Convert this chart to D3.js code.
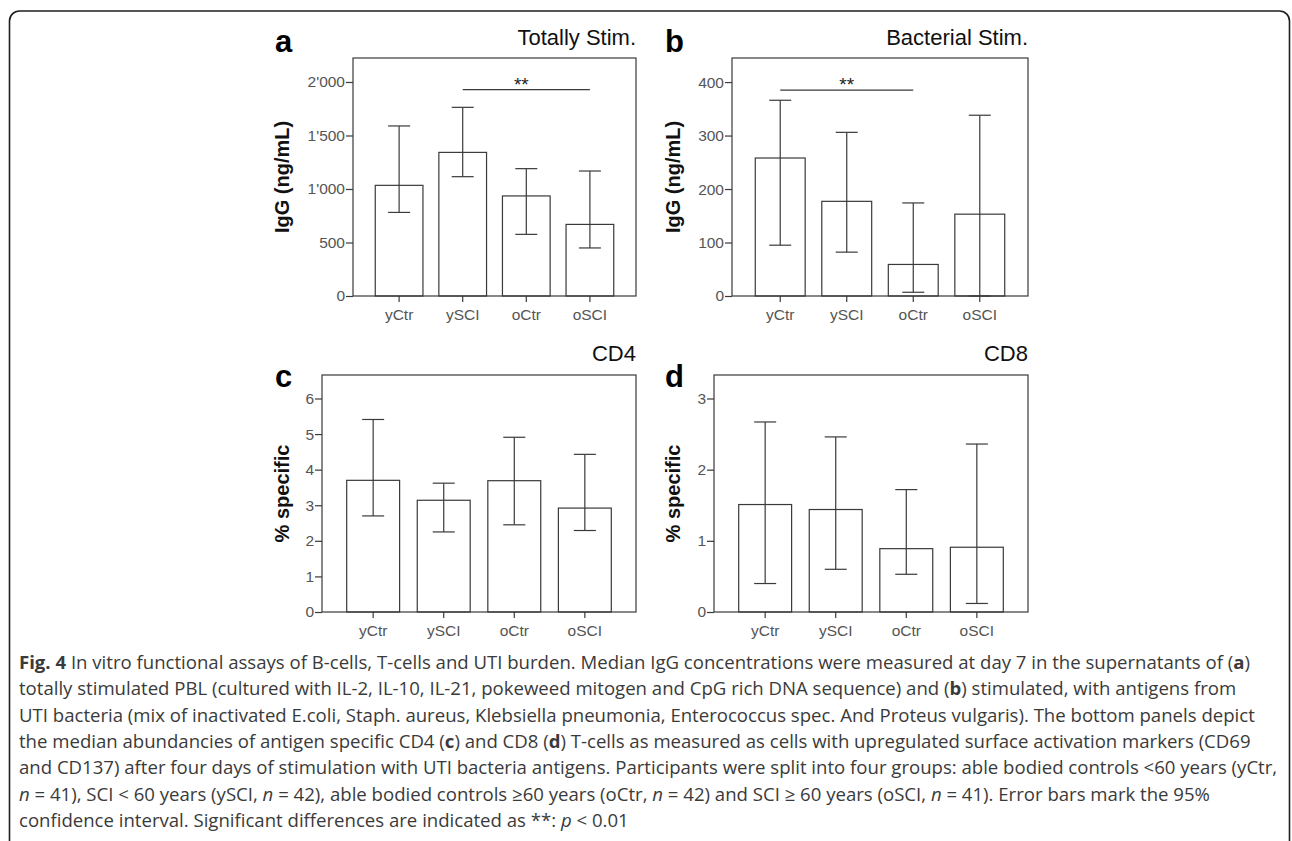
<!DOCTYPE html>
<html>
<head>
<meta charset="utf-8">
<script src="https://cdn.jsdelivr.net/npm/d3@7"></script>
<style>
  body { margin: 0; background: #fff; }
  svg { display: block; }
</style>
</head>
<body>
<div class="fig-wrap"></div>
<script>
// groups on the x axis
const groups = ["yCtr", "ySCI", "oCtr", "oSCI"];

// a: IgG, totally stimulated (median + 95% CI)
const totalMedian = [1034, 1342, 935, 669];
const totalLow = [781, 1115, 576, 449];
const totalHigh = [1589, 1763, 1190, 1168];
const totalTicks = [0, 500, 1000, 1500, 2000];

// b: IgG, bacterial stimulation
const bactMedian = [258, 177, 59, 153];
const bactLow = [95, 82, 7, 0];
const bactHigh = [366, 306, 174, 338];
const bactTicks = [0, 100, 200, 300, 400];

// c: CD4 % specific
const cd4Median = [3.70, 3.14, 3.69, 2.92];
const cd4Low = [2.70, 2.25, 2.45, 2.29];
const cd4High = [5.41, 3.62, 4.91, 4.43];
const cd4Ticks = [0, 1, 2, 3, 4, 5, 6];

// d: CD8 % specific
const cd8Median = [1.51, 1.44, 0.89, 0.91];
const cd8Low = [0.40, 0.60, 0.53, 0.12];
const cd8High = [2.67, 2.46, 1.72, 2.36];
const cd8Ticks = [0, 1, 2, 3];

// significance brackets: [from, to, height]
const totalSig = ["ySCI", "oSCI", 1928];
const bactSig = ["yCtr", "oCtr", 385];

// caption lines, segments: [text, style]
const captionLines = [
  [["Fig. 4", "b"], [" In vitro functional assays of B-cells, T-cells and UTI burden. Median IgG concentrations were measured at day 7 in the supernatants of (", ""], ["a", "b"], [")", ""]],
  [["totally stimulated PBL (cultured with IL-2, IL-10, IL-21, pokeweed mitogen and CpG rich DNA sequence) and (", ""], ["b", "b"], [") stimulated, with antigens from", ""]],
  [["UTI bacteria (mix of inactivated E.coli, Staph. aureus, Klebsiella pneumonia, Enterococcus spec. And Proteus vulgaris). The bottom panels depict", ""]],
  [["the median abundancies of antigen specific CD4 (", ""], ["c", "b"], [") and CD8 (", ""], ["d", "b"], [") T-cells as measured as cells with upregulated surface activation markers (CD69", ""]],
  [["and CD137) after four days of stimulation with UTI bacteria antigens. Participants were split into four groups: able bodied controls <60 years (yCtr,", ""]],
  [["n", "i"], [" = 41), SCI < 60 years (ySCI, ", ""], ["n", "i"], [" = 42), able bodied controls \u226560 years (oCtr, ", ""], ["n", "i"], [" = 42) and SCI \u2265 60 years (oSCI, ", ""], ["n", "i"], [" = 41). Error bars mark the 95%", ""]],
  [["confidence interval. Significant differences are indicated as **: ", ""], ["p", "i"], [" < 0.01", ""]]
];

const W = 1292, H = 841;
const ink = "#3a3a3a";
const tickInk = "#555";
const chartFont = "'Liberation Sans', Arial, Helvetica, sans-serif";

const svg = d3.select(".fig-wrap")
  .append("svg")
  .attr("width", W)
  .attr("height", H);

// outer rounded frame (bottom edge runs off the page)
svg.append("rect")
  .attr("x", 9.5).attr("y", 11)
  .attr("width", 1280).attr("height", 900)
  .attr("rx", 10)
  .attr("fill", "none")
  .attr("stroke", "#1e1e1e")
  .attr("stroke-width", 1.6);

const panels = [
  { letter: "a", title: "Totally Stim.", ylabel: "IgG (ng/mL)", med: totalMedian, lo: totalLow, hi: totalHigh,
    ticks: totalTicks, max: 2224, sig: totalSig, sigShift: -5, fmt: true,
    x0: 353, x1: 636, y0: 58, y1: 296, labelX: 275, axisLabelX: 282, titleY: 45, letterY: 52 },
  { letter: "b", title: "Bacterial Stim.", ylabel: "IgG (ng/mL)", med: bactMedian, lo: bactLow, hi: bactHigh,
    ticks: bactTicks, max: 445, sig: bactSig, sigShift: 0, fmt: false,
    x0: 732, x1: 1028, y0: 58, y1: 296, labelX: 665, axisLabelX: 673, titleY: 45, letterY: 52 },
  { letter: "c", title: "CD4", ylabel: "% specific", med: cd4Median, lo: cd4Low, hi: cd4High,
    ticks: cd4Ticks, max: 6.66, sig: null, fmt: false,
    x0: 322, x1: 636, y0: 375, y1: 612, labelX: 275, axisLabelX: 282, titleY: 361, letterY: 387 },
  { letter: "d", title: "CD8", ylabel: "% specific", med: cd8Median, lo: cd8Low, hi: cd8High,
    ticks: cd8Ticks, max: 3.33, sig: null, fmt: false,
    x0: 714, x1: 1028, y0: 375, y1: 612, labelX: 665, axisLabelX: 673, titleY: 361, letterY: 387 }
];

const apostrophe = d3.formatLocale({ decimal: ".", thousands: "'", grouping: [3], currency: ["", ""] }).format(",");

panels.forEach(drawPanel);

function drawPanel(p) {
  const x = d3.scaleBand()
    .domain(groups)
    .range([p.x0, p.x1])
    .paddingInner(0.25)
    .paddingOuter(0.35);
  const y = d3.scaleLinear()
    .domain([0, p.max])
    .range([p.y1, p.y0]);

  const g = svg.append("g");
  const rows = groups.map((k, i) => ({ k, m: p.med[i], lo: p.lo[i], hi: p.hi[i] }));

  // bars
  g.selectAll("rect.bar")
    .data(rows)
    .enter()
    .append("rect")
    .attr("class", "bar")
    .attr("x", d => x(d.k))
    .attr("y", d => y(d.m))
    .attr("width", x.bandwidth())
    .attr("height", d => y(0) - y(d.m))
    .attr("fill", "#fff")
    .attr("stroke", ink)
    .attr("stroke-width", 1.2);

  // error bars
  const cap = 11;
  const eb = g.selectAll("g.err")
    .data(rows)
    .enter()
    .append("g")
    .attr("class", "err")
    .attr("stroke", ink)
    .attr("stroke-width", 1.2);
  eb.append("line")
    .attr("x1", d => x(d.k) + x.bandwidth() / 2)
    .attr("x2", d => x(d.k) + x.bandwidth() / 2)
    .attr("y1", d => y(d.lo))
    .attr("y2", d => y(d.hi));
  eb.append("line")
    .attr("x1", d => x(d.k) + x.bandwidth() / 2 - cap)
    .attr("x2", d => x(d.k) + x.bandwidth() / 2 + cap)
    .attr("y1", d => y(d.hi))
    .attr("y2", d => y(d.hi));
  eb.append("line")
    .attr("x1", d => x(d.k) + x.bandwidth() / 2 - cap)
    .attr("x2", d => x(d.k) + x.bandwidth() / 2 + cap)
    .attr("y1", d => y(d.lo))
    .attr("y2", d => y(d.lo));

  // plot frame
  g.append("rect")
    .attr("x", p.x0).attr("y", p.y0)
    .attr("width", p.x1 - p.x0).attr("height", p.y1 - p.y0)
    .attr("fill", "none")
    .attr("stroke", ink)
    .attr("stroke-width", 1.2);

  // y axis
  const yAxis = d3.axisLeft(y)
    .tickValues(p.ticks)
    .tickSize(7)
    .tickPadding(1)
    .tickFormat(p.fmt ? apostrophe : d3.format("d"));
  const ya = g.append("g")
    .attr("transform", `translate(${p.x0},0)`)
    .call(yAxis);
  ya.select(".domain").remove();
  ya.selectAll(".tick line").attr("stroke", ink).attr("stroke-width", 1.2);
  ya.selectAll(".tick text")
    .attr("fill", tickInk)
    .style("font-family", chartFont)
    .style("font-size", "15.5px");

  // x axis
  const xAxis = d3.axisBottom(x).tickSize(6).tickPadding(7);
  const xa = g.append("g")
    .attr("transform", `translate(0,${p.y1})`)
    .call(xAxis);
  xa.select(".domain").remove();
  xa.selectAll(".tick line").attr("stroke", ink).attr("stroke-width", 1.2);
  xa.selectAll(".tick text")
    .attr("fill", tickInk)
    .style("font-family", chartFont)
    .style("font-size", "15.5px");

  // significance bracket
  if (p.sig) {
    const sx1 = x(p.sig[0]) + x.bandwidth() / 2;
    const sx2 = x(p.sig[1]) + x.bandwidth() / 2;
    const sy = y(p.sig[2]);
    g.append("line")
      .attr("x1", sx1).attr("x2", sx2)
      .attr("y1", sy).attr("y2", sy)
      .attr("stroke", ink)
      .attr("stroke-width", 1.2);
    g.append("text")
      .attr("x", (sx1 + sx2) / 2 + p.sigShift)
      .attr("y", sy + 1)
      .attr("text-anchor", "middle")
      .attr("fill", "#222")
      .style("font-family", chartFont)
      .style("font-size", "19px")
      .text("**");
  }

  // title, panel letter, y label
  g.append("text")
    .attr("x", p.x1)
    .attr("y", p.titleY)
    .attr("text-anchor", "end")
    .attr("fill", "#111")
    .style("font-family", chartFont)
    .style("font-size", "22px")
    .text(p.title);
  g.append("text")
    .attr("x", p.labelX)
    .attr("y", p.letterY)
    .attr("fill", "#000")
    .style("font-family", chartFont)
    .style("font-size", "31px")
    .style("font-weight", "bold")
    .text(p.letter);
  g.append("text")
    .attr("transform", `translate(${p.axisLabelX},${(p.y0 + p.y1) / 2})rotate(-90)`)
    .attr("text-anchor", "middle")
    .attr("dy", "0.36em")
    .attr("fill", "#111")
    .style("font-family", chartFont)
    .style("font-size", "20px")
    .style("font-weight", "bold")
    .text(p.ylabel);
}

// caption
const cap = svg.append("g")
  .attr("fill", "#3a3a3a")
  .style("font-family", "'Open Sans', 'Noto Sans', sans-serif");

const capText = cap.selectAll("text")
  .data(captionLines)
  .enter()
  .append("text")
  .attr("x", 19)
  .attr("y", (d, i) => 669 + i * 26.3)
  .style("font-size", "18px");

capText.selectAll("tspan")
  .data(d => d)
  .enter()
  .append("tspan")
  .style("font-weight", d => d[1] === "b" ? "bold" : null)
  .style("font-style", d => d[1] === "i" ? "italic" : null)
  .text(d => d[0]);

// fit first line to the reference width
const firstLen = capText.node().getComputedTextLength();
const fitted = 18 * 1232 / firstLen;
capText.style("font-size", fitted + "px");
</script>
</body>
</html>
